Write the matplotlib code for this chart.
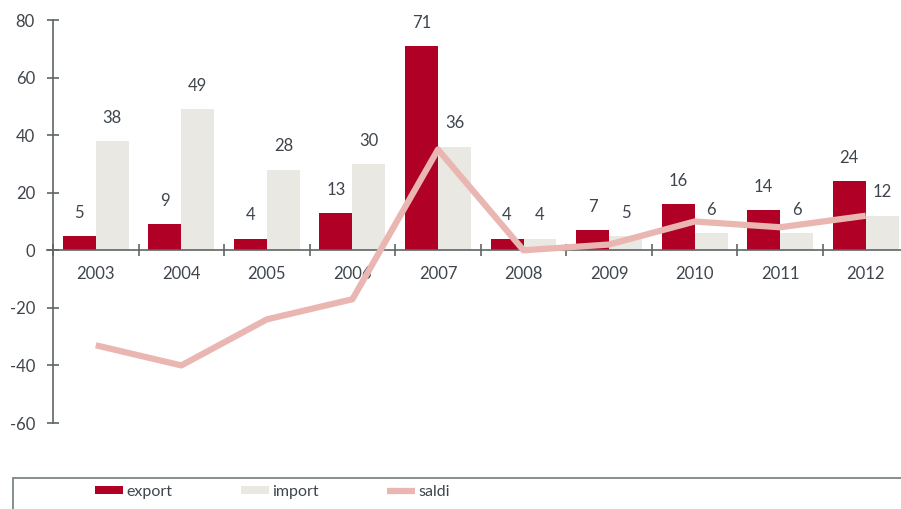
import matplotlib
matplotlib.use("Agg")
import matplotlib.pyplot as plt
from matplotlib.patches import Rectangle
import numpy as np

years = ["2003", "2004", "2005", "2006", "2007", "2008", "2009", "2010", "2011", "2012"]
export = [5, 9, 4, 13, 71, 4, 7, 16, 14, 24]
imports = [38, 49, 28, 30, 36, 4, 5, 6, 6, 12]
saldi = [-33, -40, -24, -17, 35, 0, 2, 10, 8, 12]
yticks = [-60, -40, -20, 0, 20, 40, 60, 80]

RED = "#B00026"
GREY = "#E9E8E3"
PINK = "#E9B6B2"
TXT = "#3f454c"
AX = "#5d6662"

plt.rcParams['font.family'] = ['Lato', 'DejaVu Sans']

W, H = 901, 509
fig = plt.figure(figsize=(W / 100, H / 100), dpi=100)
x0 = 47
xright = 53 + 855.5
ax = fig.add_axes([x0 / W, 86 / H, (xright - x0) / W, 403 / H])

x = np.arange(len(years))
bw = 0.385
b1 = ax.bar(x - bw / 2, export, width=bw, color=RED, zorder=2, label="export")
b2 = ax.bar(x + bw / 2, imports, width=bw, color=GREY, zorder=2, label="import")
l1, = ax.plot(x, saldi, color=PINK, lw=4.5, zorder=3, solid_capstyle='butt', label="saldi")

FS = 12
for xi, v in zip(x, export):
    ax.annotate(str(v), (xi - bw / 2, v), xytext=(0, 11), textcoords="offset points",
                ha="center", va="bottom", fontsize=FS, color=TXT)
for xi, v in zip(x, imports):
    ax.annotate(str(v), (xi + bw / 2, v), xytext=(0, 11), textcoords="offset points",
                ha="center", va="bottom", fontsize=FS, color=TXT)

ax.set_xlim(-0.5 - 6 / 85.5, 9.5)
ax.set_ylim(-60, 80)

for s in ["top", "right"]:
    ax.spines[s].set_visible(False)
ax.spines["left"].set_position(("data", -0.5))
ax.spines["bottom"].set_position(("data", 0))
ax.spines["left"].set_color(AX)
ax.spines["bottom"].set_color(AX)
ax.spines["left"].set_linewidth(1.2)
ax.spines["bottom"].set_linewidth(1.2)

ax.set_yticks(yticks)
ax.set_yticklabels([str(t) for t in yticks])
ax.tick_params(axis="y", direction="inout", length=8, width=1.2, color=AX,
               labelsize=FS, labelcolor=TXT, pad=9)

ax.set_xticks(x)
ax.set_xticklabels(years)
ax.set_xticks(np.arange(-0.5, 10.5, 1.0), minor=True)
ax.tick_params(axis="x", which="major", length=0, labelsize=FS, labelcolor=TXT, pad=11)
ax.tick_params(axis="x", which="minor", direction="inout", length=8, width=1.2, color=AX)

# legend frame
fig.patches.append(Rectangle((13 / W, -0.05), 1.0, (509 - 478) / H + 0.05,
                             transform=fig.transFigure, fill=False,
                             edgecolor="#7d8682", linewidth=1.3))
leg = fig.legend([b1, b2, l1], ["export", "import", "saldi"], loc="center left",
                 bbox_to_anchor=(95 / W, 1 - 492 / H),
                 ncol=3, frameon=False, fontsize=11.5, handlelength=1.75, handleheight=0.4,
                 handletextpad=0.2, columnspacing=4.3, borderpad=0, borderaxespad=0)
for t in leg.get_texts():
    t.set_color(TXT)

fig.savefig("out.png", dpi=100)
